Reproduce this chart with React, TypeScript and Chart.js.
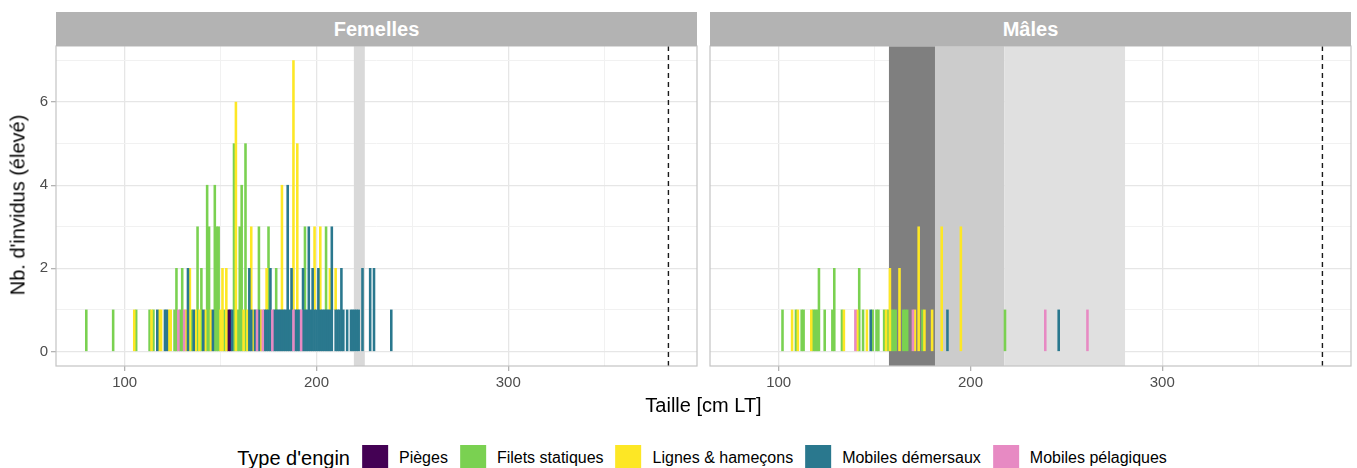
import React, { useEffect, useRef } from "react";
import { Chart, registerables } from "chart.js";

Chart.register(...registerables);
Chart.defaults.font.family = "'Liberation Sans', Arial, Helvetica, sans-serif";

// ---- Data ----
const GEAR_LABELS = ["Pièges", "Filets statiques", "Lignes & hameçons", "Mobiles démersaux", "Mobiles pélagiques"];
const GEAR_COLORS = ["#440154", "#7AD151", "#FDE725", "#2A788E", "#E78AC3"];

const PANEL_TITLES = ["Femelles", "Mâles"];

// [taille (cm LT), nb. individus]
const F_PIEGES = [[154, 1], [155, 1]];
const F_FILETS = [[80, 1], [94, 1], [106, 1], [113, 1], [115, 1], [126, 1], [127, 2], [129, 1], [130, 2], [135, 1], [138, 3], [140, 2], [143, 4], [144, 3], [147, 4], [148, 3], [149, 3], [152, 1], [157, 5], [159, 1], [160, 3], [161, 4], [163, 5], [170, 2], [175, 2], [179, 1], [194, 2], [205, 2]];
const F_LIGNES = [[105, 1], [114, 1], [118, 1], [119, 1], [123, 1], [124, 1], [132, 1], [134, 2], [137, 1], [139, 1], [142, 1], [145, 1], [150, 1], [151, 2], [153, 2], [158, 6], [162, 1], [164, 1], [166, 2], [167, 1], [171, 1], [174, 1], [182, 3], [188, 6], [190, 4], [199, 2], [202, 2], [207, 1], [210, 1]];
const F_DEMERSAUX = [[117, 1], [121, 1], [122, 1], [133, 2], [136, 1], [141, 1], [146, 1], [156, 1], [165, 2], [166, 1], [168, 1], [170, 1], [173, 1], [174, 1], [175, 1], [176, 2], [178, 1], [179, 1], [180, 1], [181, 1], [182, 1], [183, 1], [184, 1], [185, 4], [186, 1], [187, 2], [189, 1], [190, 1], [191, 1], [193, 2], [194, 1], [195, 1], [196, 3], [197, 1], [198, 2], [199, 1], [200, 1], [201, 2], [202, 1], [203, 1], [204, 1], [205, 1], [206, 1], [207, 1], [208, 3], [210, 1], [211, 1], [212, 1], [213, 2], [214, 1], [216, 1], [218, 1], [219, 1], [220, 1], [221, 1], [222, 1], [224, 2], [228, 2], [230, 2], [239, 1]];
const F_PELAGIQUES = [[128, 1], [131, 1], [169, 1], [172, 1], [177, 1], [188, 1], [192, 1]];

const M_PIEGES: number[][] = [];
const M_FILETS = [[102, 1], [109, 1], [112, 1], [113, 1], [118, 1], [119, 1], [120, 1], [121, 2], [124, 1], [128, 1], [129, 2], [133, 1], [142, 2], [144, 1], [149, 1], [151, 1], [152, 1], [155, 1], [157, 1], [159, 1], [160, 1], [161, 1], [165, 1], [166, 1], [167, 1], [175, 1], [218, 1]];
const M_LIGNES = [[107, 1], [110, 1], [117, 1], [134, 1], [141, 1], [146, 1], [156, 1], [158, 2], [163, 2], [171, 1], [173, 3], [176, 1], [180, 1], [185, 3], [195, 3]];
const M_DEMERSAUX = [[148, 1], [188, 1], [246, 1]];
const M_PELAGIQUES = [[140, 1], [170, 1], [239, 1], [261, 1]];

// shaded size ranges [from, to]
const F_BANDS = [[219.5, 225.2]];
const M_BANDS = [[157.5, 181.5], [181.5, 217.6], [217.6, 280.6]];
const MAX_SIZE = 383.5;

const X_RANGE = [64.2, 398.4];
const Y_RANGE = [-0.35, 7.35];
const X_TICKS = [100, 150, 200, 250, 300, 350];
const X_LABELS = [100, 200, 300];
const Y_TICKS = [0, 1, 2, 3, 4, 5, 6, 7];
const Y_LABELS = [0, 2, 4, 6];

// ---- Styling ----
const F_BAND_COLORS = ["#d9d9d9"];
const M_BAND_COLORS = ["#7f7f7f", "#cccccc", "#e0e0e0"];
const FONT = "'Liberation Sans', Arial, Helvetica, sans-serif";

function toPoints(arr: number[][]) {
  return arr.map(([x, y]) => ({ x, y }));
}

function buildDatasets(series: number[][][]) {
  // stacking order bottom -> top: pélagiques, démersaux, lignes, filets, pièges
  const order = [4, 3, 2, 1, 0];
  return order.map((gi) => ({
    label: GEAR_LABELS[gi],
    data: toPoints(series[gi]),
    backgroundColor: GEAR_COLORS[gi],
    borderWidth: 0,
    barPercentage: 1,
    categoryPercentage: 1,
  }));
}

function panelPlugin(bands: number[][], colors: string[]) {
  return {
    id: "panelDecor",
    beforeDatasetsDraw(chart: any) {
      const { ctx, chartArea, scales } = chart;
      const { top, bottom, left, right } = chartArea;
      ctx.save();
      ctx.beginPath();
      ctx.rect(left, top, right - left, bottom - top);
      ctx.clip();
      bands.forEach(([a, b], i) => {
        const x0 = scales.x.getPixelForValue(a);
        const x1 = scales.x.getPixelForValue(b);
        ctx.fillStyle = colors[i];
        ctx.fillRect(x0, top, x1 - x0, bottom - top);
      });
      ctx.restore();
    },
    afterDatasetsDraw(chart: any) {
      const { ctx, chartArea, scales } = chart;
      const { top, bottom, left, right } = chartArea;
      ctx.save();
      const xv = scales.x.getPixelForValue(MAX_SIZE);
      ctx.strokeStyle = "#1a1a1a";
      ctx.lineWidth = 1.4;
      ctx.setLineDash([5, 4]);
      ctx.beginPath();
      ctx.moveTo(xv, top);
      ctx.lineTo(xv, bottom);
      ctx.stroke();
      ctx.setLineDash([]);
      ctx.strokeStyle = "#c4c4c4";
      ctx.lineWidth = 1.2;
      ctx.strokeRect(left, top, right - left, bottom - top);
      ctx.restore();
    },
  };
}

function makeConfig(series: number[][][], bands: number[][], bandColors: string[], showY: boolean, yWidth: number, padRight: number) {
  return {
    type: "bar",
    data: { datasets: buildDatasets(series) },
    plugins: [panelPlugin(bands, bandColors)],
    options: {
      animation: false,
      responsive: false,
      maintainAspectRatio: false,
      events: [],
      layout: { padding: { top: 46, right: padRight, left: 0, bottom: 0 } },
      plugins: { legend: { display: false }, tooltip: { enabled: false }, title: { display: false } },
      scales: {
        x: {
          type: "linear",
          stacked: true,
          offset: false,
          min: X_RANGE[0],
          max: X_RANGE[1],
          afterBuildTicks: (s: any) => {
            s.ticks = X_TICKS.map((v) => ({ value: v }));
          },
          afterFit: (s: any) => {
            s.height = 34;
          },
          border: { display: false },
          grid: {
            offset: false,
            color: (c: any) => (X_LABELS.includes(c.tick?.value) ? "#e6e6e6" : "#f1f1f1"),
            lineWidth: (c: any) => (X_LABELS.includes(c.tick?.value) ? 1.3 : 1),
            tickColor: (c: any) => (X_LABELS.includes(c.tick?.value) ? "#b3b3b3" : "rgba(0,0,0,0)"),
            tickLength: 5,
            drawTicks: true,
          },
          ticks: {
            autoSkip: false,
            maxRotation: 0,
            padding: 3,
            color: "#4d4d4d",
            font: { size: 15, family: FONT },
            callback: (v: any) => (X_LABELS.includes(v) ? String(v) : ""),
          },
        },
        y: {
          type: "linear",
          stacked: true,
          min: Y_RANGE[0],
          max: Y_RANGE[1],
          afterBuildTicks: (s: any) => {
            s.ticks = Y_TICKS.map((v) => ({ value: v }));
          },
          afterFit: (s: any) => {
            s.width = yWidth;
          },
          border: { display: false },
          grid: {
            color: (c: any) => (Y_LABELS.includes(c.tick?.value) ? "#e6e6e6" : "#f1f1f1"),
            lineWidth: (c: any) => (Y_LABELS.includes(c.tick?.value) ? 1.3 : 1),
            tickColor: (c: any) => (showY && Y_LABELS.includes(c.tick?.value) ? "#b3b3b3" : "rgba(0,0,0,0)"),
            tickLength: showY ? 5 : 0,
            drawTicks: showY,
          },
          ticks: {
            display: showY,
            padding: 3,
            color: "#4d4d4d",
            font: { size: 15, family: FONT },
            callback: (v: any) => (Y_LABELS.includes(v) ? String(v) : ""),
          },
        },
      },
    },
  };
}

const stripStyle = (left: number, width: number): React.CSSProperties => ({
  position: "absolute",
  left,
  top: 12,
  width,
  height: 34,
  background: "#b3b3b3",
  color: "#ffffff",
  fontFamily: FONT,
  fontWeight: "bold",
  fontSize: 20,
  display: "flex",
  alignItems: "center",
  justifyContent: "center",
});

export default function App() {
  const leftRef = useRef<HTMLCanvasElement>(null);
  const rightRef = useRef<HTMLCanvasElement>(null);

  useEffect(() => {
    const charts: Chart[] = [];
    if (leftRef.current) {
      charts.push(
        new Chart(
          leftRef.current,
          makeConfig([F_PIEGES, F_FILETS, F_LIGNES, F_DEMERSAUX, F_PELAGIQUES], F_BANDS, F_BAND_COLORS, true, 56, 3) as any
        )
      );
    }
    if (rightRef.current) {
      charts.push(
        new Chart(
          rightRef.current,
          makeConfig([M_PIEGES, M_FILETS, M_LIGNES, M_DEMERSAUX, M_PELAGIQUES], M_BANDS, M_BAND_COLORS, false, 6, 6) as any
        )
      );
    }
    return () => charts.forEach((c) => c.destroy());
  }, []);

  return (
    <div
      style={{
        position: "absolute",
        left: 0,
        top: 0,
        width: 1357,
        height: 468,
        background: "#ffffff",
        overflow: "hidden",
        fontFamily: FONT,
      }}
    >
      <canvas ref={leftRef} width={700} height={400} style={{ position: "absolute", left: 0, top: 0, width: 700, height: 400 }} />
      <canvas ref={rightRef} width={653} height={400} style={{ position: "absolute", left: 704, top: 0, width: 653, height: 400 }} />
      <div style={stripStyle(56, 641)}>{PANEL_TITLES[0]}</div>
      <div style={stripStyle(710, 641)}>{PANEL_TITLES[1]}</div>
      <div
        style={{
          position: "absolute",
          left: 18,
          top: 205,
          transform: "translate(-50%, -50%) rotate(-90deg)",
          fontSize: 20,
          whiteSpace: "nowrap",
          color: "#000",
        }}
      >
        Nb. d'invidus (élevé)
      </div>
      <div
        style={{
          position: "absolute",
          left: 703.5,
          top: 405,
          transform: "translate(-50%, -50%)",
          fontSize: 20,
          whiteSpace: "nowrap",
          color: "#000",
        }}
      >
        Taille [cm LT]
      </div>
      <div
        style={{
          position: "absolute",
          left: 702,
          top: 445,
          transform: "translateX(-50%)",
          display: "flex",
          alignItems: "center",
          whiteSpace: "nowrap",
          height: 26,
        }}
      >
        <span style={{ fontSize: 20, marginRight: 12, color: "#000" }}>Type d'engin</span>
        {GEAR_LABELS.map((lab, i) => (
          <span key={lab} style={{ display: "flex", alignItems: "center" }}>
            <span style={{ display: "inline-block", width: 26, height: 26, background: GEAR_COLORS[i] }} />
            <span style={{ fontSize: 16, marginLeft: 11, marginRight: i < GEAR_LABELS.length - 1 ? 12 : 0, color: "#000" }}>{lab}</span>
          </span>
        ))}
      </div>
    </div>
  );
}
